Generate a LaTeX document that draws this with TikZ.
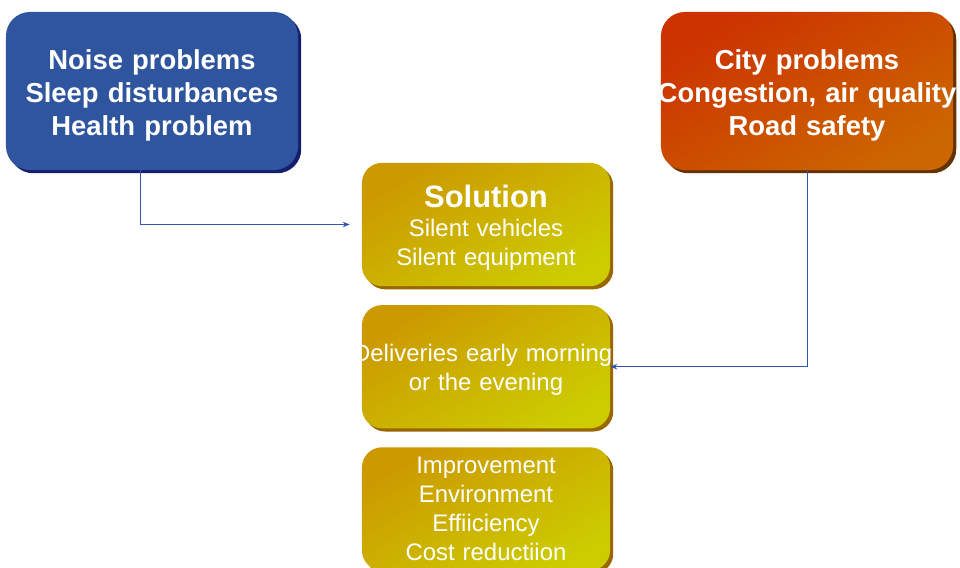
\documentclass[tikz,border=0pt]{standalone}
\usepackage{fontspec}
\setmainfont{Liberation Sans}
\usetikzlibrary{positioning,shadows,arrows.meta}

\definecolor{noiseblue}{RGB}{47,85,158}
\definecolor{noisenavy}{RGB}{22,30,110}
\definecolor{cityred}{RGB}{204,51,0}
\definecolor{cityorange}{RGB}{204,102,0}
\definecolor{citybrown}{RGB}{102,51,0}
\definecolor{solgold}{RGB}{204,153,0}
\definecolor{solyellow}{RGB}{204,204,0}
\definecolor{solbrown}{RGB}{153,102,0}
\definecolor{linkblue}{RGB}{51,85,170}

\tikzstyle{problem} = [rectangle, rounded corners=0.6cm, minimum width=7.3cm, minimum height=3.95cm, text width=6.8cm, align=center, text=white, font=\fontsize{19.5}{23.5}\selectfont\bfseries]
\tikzstyle{answer} = [rectangle, rounded corners=0.5cm, minimum width=6.2cm, minimum height=3.08cm, text width=5.8cm, align=center, text=white, font=\fontsize{17}{20.6}\selectfont, top color=solgold, bottom color=solyellow, shading angle=30, general shadow={fill=solbrown, shadow xshift=0.08cm, shadow yshift=-0.08cm}]
\tikzstyle{arrow} = [semithick, draw=linkblue, -{Stealth[length=5pt, width=4pt]}]

\begin{document}
\begin{tikzpicture}[x=0.025cm, y=-0.025cm, node distance=0.46cm] % pixel grid, top-left origin
\useasboundingbox (0,0) rectangle (960,567);

% Place the boxes
\node(noise)      [problem, fill=noiseblue, general shadow={fill=noisenavy, shadow xshift=0.08cm, shadow yshift=-0.08cm}] at (152,91) {\rule{0pt}{20pt}Noise problems\\Sleep disturbances\\Health problem};
\node(city)       [problem, top color=cityred, bottom color=cityorange, shading angle=30, general shadow={fill=citybrown, shadow xshift=0.08cm, shadow yshift=-0.08cm}] at (807,91) {\rule{0pt}{20pt}City problems\\\makebox[\linewidth]{Congestion, air quality}\\Road safety};
\node(solution)   [answer]                         at (486,224.5) {\rule{0pt}{20.5pt}{\fontsize{22}{26}\selectfont\bfseries Solution}\\Silent vehicles\\Silent equipment};
\node(deliveries) [answer, below=of solution]      {\rule{0pt}{16.7pt}\makebox[\linewidth]{Deliveries early morning,}\\or the evening};
\node(gains)      [answer, below=of deliveries]    {Improvement\\Environment\\Effiiciency\\Cost reductiion};

% Connect the boxes
\draw [arrow] ([xshift=-0.3cm]noise.south) |- ([xshift=-0.3cm]solution.west);
\draw [arrow] (city.south)                 |- (deliveries.east);

\end{tikzpicture}
\end{document}
